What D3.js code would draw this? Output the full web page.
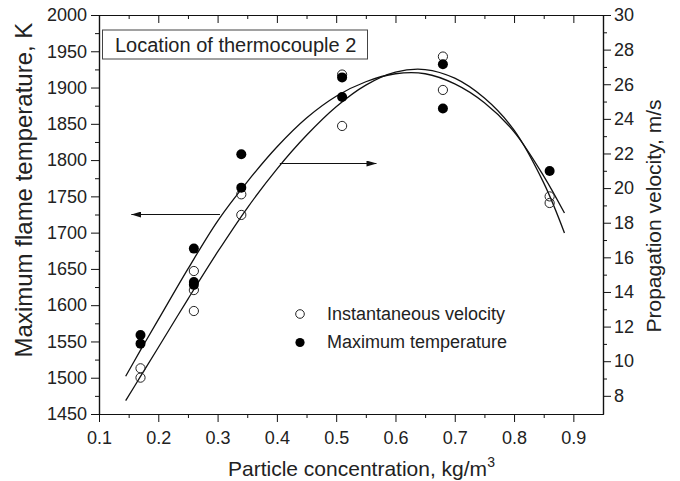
<!DOCTYPE html>
<meta charset="utf-8">
<script src="https://d3js.org/d3.v7.min.js"></script>
<style>
    body { margin: 0; background: #fff; }
    svg { font-family: "Liberation Sans", Arial, sans-serif; }
    .axis text { font-size: 18px; fill: #222; }
    .axis path, .axis line { stroke: #111; }
</style>
<div id="my_dataviz"></div>
<script>
    // measured points (x = particle concentration, kg/m3)
    var tempX = [0.17, 0.17, 0.26, 0.26, 0.26, 0.34, 0.34, 0.51, 0.51, 0.68, 0.68, 0.86];
    var tempK = [1559, 1547, 1678, 1632, 1628, 1808, 1762, 1914, 1887, 1932, 1871, 1785];
    var velX = [0.17, 0.17, 0.26, 0.26, 0.26, 0.34, 0.34, 0.51, 0.51, 0.68, 0.68, 0.86, 0.86];
    var velMs = [9.59, 9.05, 15.21, 14.11, 12.9, 19.64, 18.45, 26.56, 23.59, 27.6, 25.67, 19.52, 19.14];

    // fitted curves, sampled along x
    var fitX = [0.145, 0.17, 0.2, 0.25, 0.3, 0.35, 0.4, 0.45, 0.5, 0.55, 0.6, 0.65, 0.7, 0.75, 0.8, 0.85, 0.885];
    var tempFit = [1502, 1538, 1580, 1650, 1716, 1770, 1818, 1858, 1888, 1908, 1919, 1919, 1905, 1879, 1839, 1778, 1727];
    var velFit = [7.72, 9.12, 10.79, 13.59, 16.31, 18.85, 21.1, 23.05, 24.7, 25.95, 26.7, 26.85, 26.35, 25.2, 23.35, 20.3, 17.41];

    // ticks
    var xTicks = [0.1, 0.2, 0.3, 0.4, 0.5, 0.6, 0.7, 0.8, 0.9];
    var xMinor = [0.15, 0.25, 0.35, 0.45, 0.55, 0.65, 0.75, 0.85];
    var tTicks = [1450, 1500, 1550, 1600, 1650, 1700, 1750, 1800, 1850, 1900, 1950, 2000];
    var tMinor = [1475, 1525, 1575, 1625, 1675, 1725, 1775, 1825, 1875, 1925, 1975];
    var vTicks = [8, 10, 12, 14, 16, 18, 20, 22, 24, 26, 28, 30];
    var vMinor = [9, 11, 13, 15, 17, 19, 21, 23, 25, 27, 29];

    var labelBox = "Location of thermocouple 2";
    var legendNames = ["Instantaneous velocity", "Maximum temperature"];

    var margin = {top: 15, right: 77, bottom: 67, left: 99},
        width = 680 - margin.left - margin.right,
        height = 481 - margin.top - margin.bottom;

    var svg = d3.select("#my_dataviz")
        .append("svg")
            .attr("width", 680)
            .attr("height", 481)
        .append("g")
            .attr("transform", "translate(" + margin.left + "," + margin.top + ")");

    var x = d3.scaleLinear().domain([0.1, 0.95]).range([0, width]);
    var yT = d3.scaleLinear().domain([1450, 2000]).range([height, 0]);
    var yV = d3.scaleLinear().domain([6.95, 30]).range([height, 0]);

    // axes
    svg.append("g").attr("class", "axis")
        .attr("transform", "translate(0," + height + ")")
        .call(d3.axisBottom(x).tickValues(xTicks).tickSize(8).tickSizeOuter(0).tickPadding(9).tickFormat(d3.format(".1f")));
    svg.append("g").attr("class", "axis")
        .attr("transform", "translate(0," + height + ")")
        .call(d3.axisBottom(x).tickValues(xMinor).tickSize(4).tickSizeOuter(0).tickFormat(""));
    svg.append("g").attr("class", "axis")
        .call(d3.axisTop(x).tickValues(xTicks).tickSize(-8).tickSizeOuter(0).tickFormat(""));
    svg.append("g").attr("class", "axis")
        .call(d3.axisTop(x).tickValues(xMinor).tickSize(-4).tickSizeOuter(0).tickFormat(""));

    svg.append("g").attr("class", "axis")
        .call(d3.axisLeft(yT).tickValues(tTicks).tickSize(8).tickSizeOuter(0).tickPadding(4).tickFormat(d3.format("d")));
    svg.append("g").attr("class", "axis")
        .call(d3.axisLeft(yT).tickValues(tMinor).tickSize(4).tickSizeOuter(0).tickFormat(""));

    svg.append("g").attr("class", "axis")
        .attr("transform", "translate(" + width + ",0)")
        .call(d3.axisRight(yV).tickValues(vTicks).tickSize(8).tickSizeOuter(0).tickPadding(3).tickFormat(d3.format("d")));
    svg.append("g").attr("class", "axis")
        .attr("transform", "translate(" + width + ",0)")
        .call(d3.axisRight(yV).tickValues(vMinor).tickSize(4).tickSizeOuter(0).tickFormat(""));

    svg.selectAll(".axis .domain").attr("stroke-width", 1.2);

    // fitted curves
    var lineT = d3.line()
        .x(function(d, i) { return x(fitX[i]); })
        .y(function(d) { return yT(d); })
        .curve(d3.curveCatmullRom.alpha(0.5));
    var lineV = d3.line()
        .x(function(d, i) { return x(fitX[i]); })
        .y(function(d) { return yV(d); })
        .curve(d3.curveCatmullRom.alpha(0.5));

    svg.append("path").attr("d", lineT(tempFit))
        .attr("fill", "none").attr("stroke", "#111").attr("stroke-width", 1.3);
    svg.append("path").attr("d", lineV(velFit))
        .attr("fill", "none").attr("stroke", "#111").attr("stroke-width", 1.3);

    // points: open = velocity (right axis), filled = temperature (left axis)
    svg.selectAll(".vel")
        .data(velMs)
        .enter().append("circle")
            .attr("class", "vel")
            .attr("cx", function(d, i) { return x(velX[i]); })
            .attr("cy", function(d) { return yV(d); })
            .attr("r", 4.6)
            .attr("fill", "none")
            .attr("stroke", "#222")
            .attr("stroke-width", 1);

    svg.selectAll(".temp")
        .data(tempK)
        .enter().append("circle")
            .attr("class", "temp")
            .attr("cx", function(d, i) { return x(tempX[i]); })
            .attr("cy", function(d) { return yT(d); })
            .attr("r", 5)
            .attr("fill", "#000");

    // arrows
    svg.append("defs").append("marker")
        .attr("id", "head")
        .attr("viewBox", "0 0 10 6")
        .attr("refX", 10).attr("refY", 3)
        .attr("markerWidth", 10).attr("markerHeight", 6)
        .attr("markerUnits", "userSpaceOnUse")
        .attr("orient", "auto")
        .append("path").attr("d", "M0,0L10,3L0,6Z").attr("fill", "#111");

    svg.append("line")
        .attr("x1", x(0.304)).attr("x2", x(0.1545))
        .attr("y1", yT(1725)).attr("y2", yT(1725))
        .attr("stroke", "#111").attr("stroke-width", 1.2)
        .attr("marker-end", "url(#head)");
    svg.append("line")
        .attr("x1", x(0.405)).attr("x2", x(0.568))
        .attr("y1", yV(21.42)).attr("y2", yV(21.42))
        .attr("stroke", "#111").attr("stroke-width", 1.2)
        .attr("marker-end", "url(#head)");

    // label box
    svg.append("rect")
        .attr("x", 3.5).attr("y", 15)
        .attr("width", 265).attr("height", 29)
        .attr("fill", "#fff").attr("stroke", "#444").attr("stroke-width", 1);
    svg.append("text")
        .attr("x", 16).attr("y", 37)
        .attr("font-size", "20px").attr("fill", "#222")
        .text(labelBox);

    // legend
    var legend = svg.append("g").attr("transform", "translate(201,299)");
    legend.append("circle").attr("cx", 0).attr("cy", 0).attr("r", 4.3)
        .attr("fill", "none").attr("stroke", "#222");
    legend.append("circle").attr("cx", 0).attr("cy", 28.5).attr("r", 4.6)
        .attr("fill", "#000");
    legend.selectAll(".ltxt")
        .data(legendNames)
        .enter().append("text")
            .attr("x", 27)
            .attr("y", function(d, i) { return 6 + i * 28; })
            .attr("font-size", "18px").attr("fill", "#222")
            .text(function(d) { return d; });

    // axis titles
    var xt = svg.append("text")
        .attr("x", 129).attr("y", height + 62)
        .attr("font-size", "21px").attr("fill", "#222")
        .text("Particle concentration, kg/m");
    xt.append("tspan").attr("dy", -9).attr("font-size", "14px").text("3");

    svg.append("text")
        .attr("transform", "translate(" + (31.5 - margin.left) + "," + (190 - margin.top) + ") rotate(-90)")
        .attr("text-anchor", "middle")
        .attr("font-size", "24px").attr("fill", "#222")
        .text("Maximum flame temperature, K");

    svg.append("text")
        .attr("transform", "translate(" + (661 - margin.left) + "," + (216 - margin.top) + ") rotate(-90)")
        .attr("text-anchor", "middle")
        .attr("font-size", "21px").attr("fill", "#222")
        .text("Propagation velocity, m/s");
</script>
